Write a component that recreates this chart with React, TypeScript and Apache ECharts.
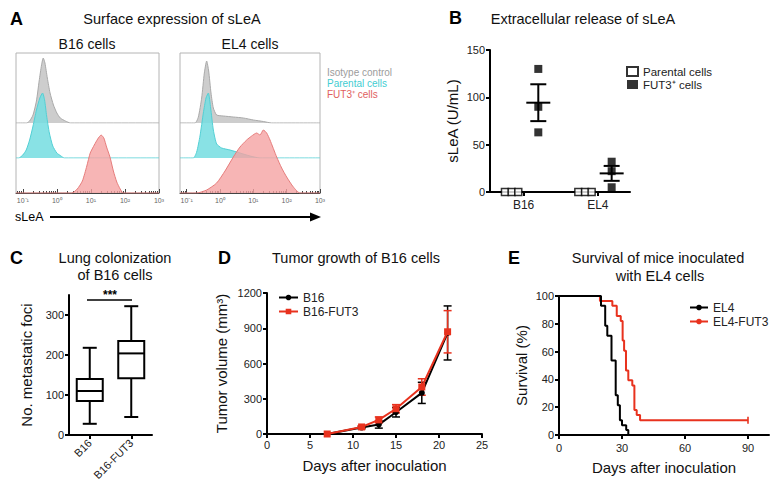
import React, { useEffect, useRef } from "react";
import * as echarts from "echarts";

const FONT = "'Liberation Sans', Arial, Helvetica, sans-serif";

// ---------- Panel A: flow cytometry histograms (x = log10 fluorescence, y = events) ----------
const logDecades = [-1, 0, 1, 2, 3];
const logDecadeLabels = ["10⁻¹", "10⁰", "10¹", "10²", "10³"];
const logMinorTicks: number[] = [];
[-2, -1, 0, 1, 2].forEach((d) =>
  [2, 3, 4, 5, 6, 7, 8, 9].forEach((k) => {
    const v = d + Math.log10(k);
    if (v > -1.2 && v < 3) logMinorTicks.push(v);
  })
);

const b16Isotype = [[-1.2, 0], [-0.89, 0], [-0.8, 2], [-0.7, 8], [-0.6, 22], [-0.52, 42], [-0.45, 58], [-0.4, 65], [-0.35, 60], [-0.28, 45], [-0.2, 30], [-0.1, 18], [0, 10], [0.1, 5], [0.25, 2], [0.4, 0], [3, 0]];
const b16Parental = [[-1.2, 0], [-1.12, 0], [-1.0, 3], [-0.9, 8], [-0.8, 18], [-0.7, 32], [-0.6, 48], [-0.5, 60], [-0.42, 65], [-0.36, 58], [-0.3, 42], [-0.22, 25], [-0.12, 12], [0, 5], [0.12, 2], [0.22, 0], [3, 0]];
const b16Fut3 = [[-1.2, 0], [0.44, 0], [0.6, 4], [0.75, 12], [0.88, 27], [0.98, 40], [1.1, 48], [1.2, 54], [1.3, 58], [1.38, 55], [1.46, 46], [1.56, 36], [1.66, 22], [1.76, 11], [1.86, 4], [1.95, 0], [3, 0]];
const el4Isotype = [[-1.2, 0], [-0.75, 0], [-0.65, 6], [-0.55, 25], [-0.47, 50], [-0.4, 62], [-0.34, 52], [-0.27, 30], [-0.2, 15], [-0.1, 8], [0.1, 7], [0.4, 6], [0.7, 5], [1.0, 3], [1.3, 1.5], [1.55, 0], [3, 0]];
const el4Parental = [[-1.2, 0], [-0.8, 0], [-0.7, 6], [-0.6, 22], [-0.5, 45], [-0.42, 60], [-0.35, 65], [-0.28, 50], [-0.2, 28], [-0.1, 14], [0.05, 10], [0.3, 8], [0.6, 5], [0.9, 2], [1.2, 0], [3, 0]];
const el4Fut3 = [[-1.2, 0], [-0.7, 0], [-0.4, 3], [-0.1, 10], [0.15, 22], [0.4, 36], [0.6, 46], [0.8, 53], [0.95, 57], [1.1, 60], [1.2, 58], [1.3, 63], [1.4, 60], [1.5, 53], [1.7, 36], [1.85, 25], [2.0, 16], [2.2, 6], [2.4, 0], [3, 0]];

// ---------- Panel B: extracellular sLeA (U/mL) ----------
const groupsB = ["B16", "EL4"];
const groupTickX = [2.4, 7.7];
const parentalValues = [[0, 0, 0], [0, 0, 0]];
const parentalX = [[1.07, 1.55, 2.02], [6.31, 6.79, 7.26]];
const fut3Values = [[130, 90, 63], [32, 22, 5]];
const fut3X = [3.45, 8.69];

// ---------- Panel C: lung colonization (boxplot: min, Q1, median, Q3, max) ----------
const groupsC = ["B16", "B16-FUT3"];
const boxStats = [
  [28, 85, 110, 140, 218],
  [45, 142, 204, 235, 322],
];

// ---------- Panel D: tumor growth (mm³) ----------
const daysD = [7, 11, 13, 15, 18, 21];
const b16Volume = [0, 55, 80, 185, 350, 860];
const b16VolumeErr = [0, 10, 30, 40, 90, 230];
const fut3Volume = [0, 60, 120, 215, 400, 870];
const fut3VolumeErr = [0, 10, 25, 35, 70, 180];

// ---------- Panel E: survival (%) ----------
const el4Days = [0, 20, 22, 23, 25, 27, 28, 29, 30, 32, 33];
const el4Survival = [100, 92.9, 78.6, 71.4, 53.6, 28.6, 21.4, 10.7, 7.1, 3.6, 0];
const el4Fut3Days = [0, 19.5, 25.4, 27.5, 29.4, 30.3, 31, 31.9, 33, 34.9, 35.9, 37, 38.6, 90];
const el4Fut3Survival = [100, 96.4, 92.9, 85.7, 82.1, 67.9, 60.7, 46.4, 39.3, 35.7, 17.9, 14.3, 10.7, 10.7];
const survivalTicks = [0, 30, 60, 90];

function mean(a: number[]) {
  return a.reduce((s, v) => s + v, 0) / a.length;
}
function sem(a: number[]) {
  const m = mean(a);
  const sd = Math.sqrt(a.reduce((s, v) => s + (v - m) * (v - m), 0) / (a.length - 1));
  return sd / Math.sqrt(a.length);
}

export default function App() {
  const ref = useRef<HTMLDivElement>(null);

  useEffect(() => {
    if (!ref.current) return;
    const chart = echarts.init(ref.current, undefined, { renderer: "svg" });

    const black = "#000";
    const red = "#e8321e";
    const axisLabel = { fontSize: 11, color: "#222", fontFamily: FONT, margin: 5, formatter: (v: number) => String(v) };
    const nameStyle = { fontSize: 15, color: "#111", fontFamily: FONT };
    const axisLine = { show: true, lineStyle: { color: black, width: 2 } };
    const axisTick = { show: true, length: 4, lineStyle: { color: black, width: 2 } };

    // histogram grids
    const panes = [
      { left: 16, width: 143 },
      { left: 180, width: 140 },
    ];
    const baselines = [70, 105, 140];
    const grids: any[] = [];
    panes.forEach((p) =>
      baselines.forEach((h, k) =>
        grids.push({
          left: p.left,
          top: 53,
          width: p.width,
          height: h,
          show: k === 2,
          borderColor: "#b4b4b4",
          borderWidth: 1,
          backgroundColor: "transparent",
        })
      )
    );
    grids.push({ left: 490, top: 50, width: 140, height: 142 }); // 6 B
    grids.push({ left: 69, top: 295, width: 83, height: 140 }); // 7 C
    grids.push({ left: 267, top: 293, width: 215, height: 141 }); // 8 D
    grids.push({ left: 559, top: 296, width: 210, height: 139 }); // 9 E

    const xAxes: any[] = [];
    const yAxes: any[] = [];
    for (let i = 0; i < 6; i++) {
      const main = i % 3 === 2;
      xAxes.push({
        type: "value",
        gridIndex: i,
        min: -1.2,
        max: 3,
        show: main,
        position: "bottom",
        axisLine: { show: true, lineStyle: { color: "#444", width: 1 } },
        axisTick: { show: true, inside: true, length: 4, customValues: logDecades, lineStyle: { color: "#444" } },
        axisLabel: {
          customValues: logDecades,
          formatter: (v: number) => logDecadeLabels[logDecades.indexOf(Math.round(v))],
          fontSize: 7,
          color: "#666",
          fontFamily: FONT,
          margin: 4,
        },
        splitLine: { show: false },
      });
      yAxes.push({ type: "value", gridIndex: i, min: 0, max: baselines[i % 3], show: false });
    }
    [2, 5].forEach((g) =>
      xAxes.push({
        type: "value",
        gridIndex: g,
        min: -1.2,
        max: 3,
        position: "bottom",
        axisLine: { show: false },
        axisTick: { show: true, inside: true, length: 2, customValues: logMinorTicks, lineStyle: { color: "#444" } },
        axisLabel: { show: false },
        splitLine: { show: false },
      })
    );
    // B (x 8)
    xAxes.push({
      type: "value",
      gridIndex: 6,
      min: 0,
      max: 10,
      axisLine,
      axisTick: { ...axisTick, customValues: groupTickX },
      axisLabel: {
        ...axisLabel,
        fontSize: 12,
        margin: 7,
        customValues: groupTickX,
        formatter: (v: number) => groupsB[groupTickX.indexOf(v)] ?? "",
      },
      splitLine: { show: false },
    });
    // C (x 9)
    xAxes.push({
      type: "category",
      gridIndex: 7,
      data: groupsC,
      axisLine,
      axisTick: { ...axisTick, alignWithLabel: true },
      axisLabel: { fontSize: 11, color: "#222", fontFamily: FONT, rotate: 45, margin: 6 },
    });
    // D (x 10)
    xAxes.push({
      type: "value",
      gridIndex: 8,
      min: 0,
      max: 25,
      interval: 5,
      axisLine,
      axisTick,
      axisLabel,
      splitLine: { show: false },
      name: "Days after inoculation",
      nameLocation: "middle",
      nameGap: 24,
      nameTextStyle: nameStyle,
    });
    // E (x 11)
    xAxes.push({
      type: "value",
      gridIndex: 9,
      min: 0,
      max: 100,
      axisLine,
      axisTick: { ...axisTick, customValues: survivalTicks },
      axisLabel: { ...axisLabel, customValues: survivalTicks, margin: 7 },
      splitLine: { show: false },
      name: "Days after inoculation",
      nameLocation: "middle",
      nameGap: 25,
      nameTextStyle: nameStyle,
    });

    // y axes 6..9
    yAxes.push({
      type: "value",
      gridIndex: 6,
      min: 0,
      max: 150,
      interval: 50,
      axisLine,
      axisTick,
      axisLabel,
      splitLine: { show: false },
      name: "sLeA (U/mL)",
      nameLocation: "middle",
      nameGap: 30,
      nameTextStyle: nameStyle,
    });
    yAxes.push({
      type: "value",
      gridIndex: 7,
      min: 0,
      max: 350,
      axisLine,
      axisTick: { ...axisTick, customValues: [0, 100, 200, 300] },
      axisLabel: { ...axisLabel, customValues: [0, 100, 200, 300] },
      splitLine: { show: false },
      name: "No. metastatic foci",
      nameLocation: "middle",
      nameGap: 35,
      nameTextStyle: nameStyle,
    });
    yAxes.push({
      type: "value",
      gridIndex: 8,
      min: 0,
      max: 1200,
      interval: 300,
      axisLine,
      axisTick,
      axisLabel,
      splitLine: { show: false },
      name: "Tumor volume (mm³)",
      nameLocation: "middle",
      nameGap: 38,
      nameTextStyle: nameStyle,
    });
    yAxes.push({
      type: "value",
      gridIndex: 9,
      min: 0,
      max: 100,
      interval: 20,
      axisLine,
      axisTick,
      axisLabel,
      splitLine: { show: false },
      name: "Survival (%)",
      nameLocation: "middle",
      nameGap: 30,
      nameTextStyle: nameStyle,
    });

    const histColors = [
      { line: "#a9a9a9", area: "#c8c8c8", op: 0.9 },
      { line: "#52cfd4", area: "#74dde0", op: 0.85 },
      { line: "#e57c7b", area: "#f5a3a2", op: 0.8 },
    ];
    const histData = [b16Isotype, b16Parental, b16Fut3, el4Isotype, el4Parental, el4Fut3];
    const histNames = ["B16 isotype", "B16 parental", "B16 FUT3", "EL4 isotype", "EL4 parental", "EL4 FUT3"];
    const series: any[] = histData.map((d, i) => ({
      type: "line",
      name: histNames[i],
      xAxisIndex: i,
      yAxisIndex: i,
      data: d,
      symbol: "none",
      smooth: 0.2,
      silent: true,
      z: 2 + (i % 3),
      lineStyle: { color: histColors[i % 3].line, width: 1 },
      areaStyle: { color: histColors[i % 3].area, opacity: histColors[i % 3].op },
    }));

    // B
    const parentalData: number[][] = [];
    parentalValues.forEach((g, gi) => g.forEach((v, j) => parentalData.push([parentalX[gi][j], v])));
    const fut3Data: number[][] = [];
    fut3Values.forEach((g, gi) => g.forEach((v) => fut3Data.push([fut3X[gi], v])));
    const meanSem = fut3Values.map((g, gi) => [fut3X[gi], mean(g), mean(g) - sem(g), mean(g) + sem(g)]);
    series.push({
      type: "scatter",
      name: "Parental cells",
      xAxisIndex: 8,
      yAxisIndex: 6,
      data: parentalData,
      symbol: "rect",
      symbolSize: 7,
      itemStyle: { color: "#fff", borderColor: black, borderWidth: 1.5 },
      z: 5,
    });
    series.push({
      type: "scatter",
      name: "FUT3⁺ cells",
      xAxisIndex: 8,
      yAxisIndex: 6,
      data: fut3Data,
      symbol: "rect",
      symbolSize: 8,
      itemStyle: { color: black },
      z: 4,
    });
    series.push({
      type: "custom",
      name: "mean±SEM",
      xAxisIndex: 8,
      yAxisIndex: 6,
      data: meanSem,
      encode: { x: 0, y: [1, 2, 3] },
      z: 6,
      renderItem: (_p: any, api: any) => {
        const x = api.value(0);
        const m = api.coord([x, api.value(1)]);
        const lo = api.coord([x, api.value(2)]);
        const hi = api.coord([x, api.value(3)]);
        const st = { stroke: black, lineWidth: 2 };
        return {
          type: "group",
          children: [
            { type: "line", shape: { x1: m[0] - 12, y1: m[1], x2: m[0] + 12, y2: m[1] }, style: st },
            { type: "line", shape: { x1: m[0], y1: lo[1], x2: m[0], y2: hi[1] }, style: st },
            { type: "line", shape: { x1: m[0] - 8, y1: lo[1], x2: m[0] + 8, y2: lo[1] }, style: st },
            { type: "line", shape: { x1: m[0] - 8, y1: hi[1], x2: m[0] + 8, y2: hi[1] }, style: st },
          ],
        };
      },
    });

    // C boxplot
    series.push({
      type: "custom",
      name: "boxes",
      xAxisIndex: 9,
      yAxisIndex: 7,
      data: boxStats.map((s, i) => [i, ...s]),
      encode: { x: 0, y: [1, 2, 3, 4, 5] },
      renderItem: (_p: any, api: any) => {
        const i = api.value(0);
        const y = (k: number) => api.coord([i, api.value(k)])[1];
        const x = api.coord([i, 0])[0];
        const [pMin, pQ1, pMed, pQ3, pMax] = [y(1), y(2), y(3), y(4), y(5)];
        const bw = 13;
        const cw = 7;
        const st = { stroke: black, lineWidth: 2, fill: "none" };
        return {
          type: "group",
          children: [
            { type: "line", shape: { x1: x, y1: pMax, x2: x, y2: pQ3 }, style: st },
            { type: "line", shape: { x1: x, y1: pQ1, x2: x, y2: pMin }, style: st },
            { type: "line", shape: { x1: x - cw, y1: pMax, x2: x + cw, y2: pMax }, style: st },
            { type: "line", shape: { x1: x - cw, y1: pMin, x2: x + cw, y2: pMin }, style: st },
            { type: "rect", shape: { x: x - bw, y: pQ3, width: 2 * bw, height: pQ1 - pQ3 }, style: { stroke: black, lineWidth: 2, fill: "#fff" } },
            { type: "line", shape: { x1: x - bw, y1: pMed, x2: x + bw, y2: pMed }, style: st },
          ],
        };
      },
    });

    // D
    const errSeries = (vals: number[], errs: number[], color: string, name: string) => ({
      type: "custom",
      name,
      xAxisIndex: 10,
      yAxisIndex: 8,
      data: daysD.map((d, i) => [d, vals[i] - errs[i], vals[i] + errs[i]]).filter((r, i) => errs[i] > 0),
      encode: { x: 0, y: [1, 2] },
      z: 3,
      renderItem: (_p: any, api: any) => {
        const lo = api.coord([api.value(0), api.value(1)]);
        const hi = api.coord([api.value(0), api.value(2)]);
        const st = { stroke: color, lineWidth: 1.5 };
        return {
          type: "group",
          children: [
            { type: "line", shape: { x1: lo[0], y1: lo[1], x2: hi[0], y2: hi[1] }, style: st },
            { type: "line", shape: { x1: lo[0] - 4, y1: lo[1], x2: lo[0] + 4, y2: lo[1] }, style: st },
            { type: "line", shape: { x1: hi[0] - 4, y1: hi[1], x2: hi[0] + 4, y2: hi[1] }, style: st },
          ],
        };
      },
    });
    series.push(errSeries(b16Volume, b16VolumeErr, black, "B16 err"));
    series.push(errSeries(fut3Volume, fut3VolumeErr, red, "B16-FUT3 err"));
    series.push({
      type: "line",
      name: "B16",
      xAxisIndex: 10,
      yAxisIndex: 8,
      data: daysD.map((d, i) => [d, b16Volume[i]]),
      symbol: "circle",
      symbolSize: 6,
      lineStyle: { color: black, width: 2 },
      itemStyle: { color: black },
      z: 4,
    });
    series.push({
      type: "line",
      name: "B16-FUT3",
      xAxisIndex: 10,
      yAxisIndex: 8,
      data: daysD.map((d, i) => [d, fut3Volume[i]]),
      symbol: "rect",
      symbolSize: 7,
      lineStyle: { color: red, width: 2 },
      itemStyle: { color: red },
      z: 5,
    });

    // E
    series.push({
      type: "line",
      name: "EL4",
      xAxisIndex: 11,
      yAxisIndex: 9,
      step: "end",
      data: el4Days.map((d, i) => [d, el4Survival[i]]),
      symbol: "none",
      lineStyle: { color: black, width: 2 },
      itemStyle: { color: black },
      z: 5,
    });
    series.push({
      type: "line",
      name: "EL4-FUT3",
      xAxisIndex: 11,
      yAxisIndex: 9,
      step: "end",
      data: el4Fut3Days.map((d, i) => [d, el4Fut3Survival[i]]),
      symbol: "none",
      lineStyle: { color: red, width: 2 },
      itemStyle: { color: red },
      z: 4,
    });
    series.push({
      type: "scatter",
      name: "censored",
      xAxisIndex: 11,
      yAxisIndex: 9,
      data: [[el4Fut3Days[el4Fut3Days.length - 1], el4Fut3Survival[el4Fut3Survival.length - 1]]],
      symbol: "rect",
      symbolSize: [2, 7],
      itemStyle: { color: red },
      z: 6,
    });

    const legendText = { fontSize: 11.5, color: "#222", fontFamily: FONT, lineHeight: 13 };
    const legends = [
      {
        left: 626,
        top: 65,
        orient: "vertical",
        itemWidth: 11,
        itemHeight: 9,
        itemGap: 0,
        padding: 0,
        icon: "rect",
        textStyle: legendText,
        data: ["Parental cells", "FUT3⁺ cells"],
        selectedMode: false,
      },
      {
        left: 278,
        top: 291,
        orient: "vertical",
        itemWidth: 19,
        itemHeight: 7,
        itemGap: 1,
        padding: 0,
        textStyle: { ...legendText, fontSize: 12 },
        data: ["B16", "B16-FUT3"],
        selectedMode: false,
      },
      {
        left: 689,
        top: 301,
        orient: "vertical",
        itemWidth: 18,
        itemHeight: 7,
        itemGap: 1,
        padding: 0,
        textStyle: { ...legendText, fontSize: 12 },
        data: ["EL4", "EL4-FUT3"],
        selectedMode: false,
      },
    ];

    const txt = (text: string, x: number, y: number, size: number, opts: any = {}) => ({
      type: "text",
      x,
      y,
      silent: true,
      style: {
        text,
        fontSize: size,
        fontFamily: FONT,
        fill: opts.fill ?? "#111",
        fontWeight: opts.weight ?? "normal",
        align: opts.align ?? "center",
        verticalAlign: "middle",
      },
    });
    const graphic = [
      txt("A", 10, 19, 18, { weight: "bold", align: "left", fill: "#000" }),
      txt("Surface expression of sLeA", 172, 18.5, 14.5),
      txt("B16 cells", 87, 44, 14),
      txt("EL4 cells", 250, 44, 14),
      txt("Isotype control", 327, 72, 10, { align: "left", fill: "#9c9c9c" }),
      txt("Parental cells", 327, 83, 10, { align: "left", fill: "#3fcdd2" }),
      txt("FUT3⁺ cells", 327, 94, 10, { align: "left", fill: "#e0605d" }),
      txt("sLeA", 15, 217, 12.5, { align: "left", fill: "#000" }),
      { type: "line", silent: true, shape: { x1: 50, y1: 217, x2: 312, y2: 217 }, style: { stroke: "#000", lineWidth: 2 } },
      { type: "polygon", silent: true, shape: { points: [[310, 212.5], [321, 217], [310, 221.5]] }, style: { fill: "#000" } },
      txt("B", 449, 18, 18, { weight: "bold", align: "left", fill: "#000" }),
      txt("Extracellular release of sLeA", 583, 18.5, 14.5),
      txt("C", 10, 258, 18, { weight: "bold", align: "left", fill: "#000" }),
      txt("Lung colonization", 115, 258, 14.5),
      txt("of B16 cells", 115, 275, 14.5),
      { type: "line", silent: true, shape: { x1: 87, y1: 300, x2: 132, y2: 300 }, style: { stroke: "#000", lineWidth: 1.5 } },
      txt("***", 110, 295, 12, { weight: "bold", fill: "#000" }),
      txt("D", 218, 258, 18, { weight: "bold", align: "left", fill: "#000" }),
      txt("Tumor growth of B16 cells", 272, 258, 14.5, { align: "left" }),
      txt("E", 508, 258, 18, { weight: "bold", align: "left", fill: "#000" }),
      txt("Survival of mice inoculated", 658, 258, 14.5),
      txt("with EL4 cells", 660, 276, 14.5),
    ];

    chart.setOption({
      animation: false,
      backgroundColor: "#fff",
      textStyle: { fontFamily: FONT },
      grid: grids,
      xAxis: xAxes,
      yAxis: yAxes,
      legend: legends,
      series,
      graphic,
    });

    return () => chart.dispose();
  }, []);

  return (
    <div
      ref={ref}
      style={{ position: "absolute", left: 0, top: 0, width: 783, height: 496 }}
    />
  );
}
